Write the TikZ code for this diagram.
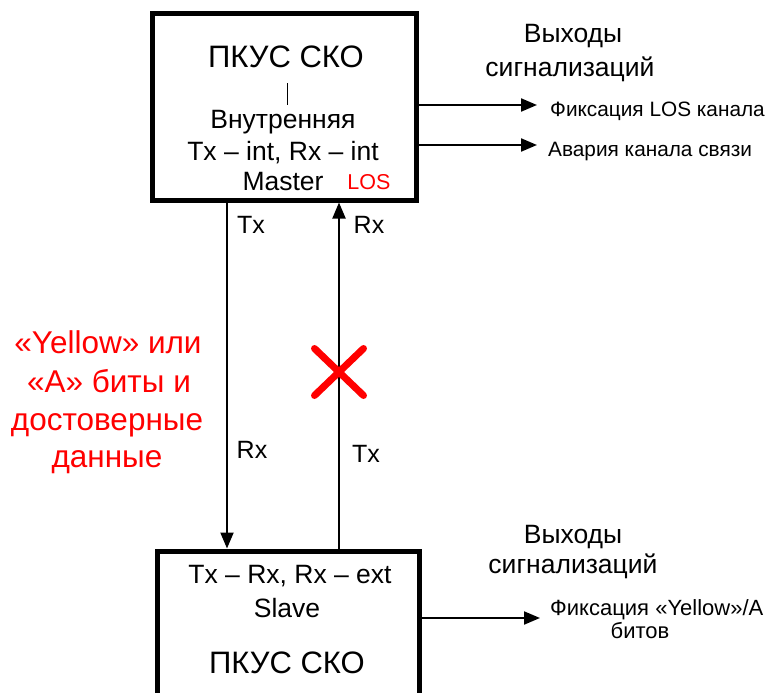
\documentclass[tikz,border=0pt]{standalone}
\usepackage{fontspec}
\setmainfont{Liberation Sans}
\usetikzlibrary{arrows.meta,shapes.misc}
\newcommand{\setfs}[2]{\fontsize{#1}{#2}\selectfont}

\begin{document}
\begin{tikzpicture}[x=1pt, y=-1pt,
      unit/.style={draw, line width=5pt, minimum width=264pt, inner sep=0pt},
      lbl/.style={inner sep=0pt, anchor=base},
      big/.style={lbl, font=\setfs{31}{37}},
      mid/.style={lbl, font=\setfs{26.5}{31}},
      sig/.style={lbl, anchor=base west, font=\setfs{20.8}{25}},
      port/.style={lbl, font=\setfs{25}{30}},
      warn/.style={lbl, text=red, font=\setfs{31.5}{38}},
      arr/.style={-{Triangle[length=16pt, width=13pt]}, line width=2pt},
      fail/.style={cross out, draw=red, line width=7pt, line cap=round,
                   minimum width=42pt, minimum height=40pt, inner sep=0pt}]
    \useasboundingbox (0,0) rectangle (771,693);
    \clip (0,0) rectangle (771,693);
    % master unit
    \node[unit, minimum height=186pt] (master) at (284,107) {};
    \node[big] (mtitle) at (286,67) {ПКУС СКО};
    \draw[line width=1pt] (287,83) -- (287,105);
    \node[mid] (mint) at (283,128) {Внутренняя};
    \node[mid] (mmode) at (283,160) {Tx – int, Rx – int};
    \node[mid] (mrole) at (283,190) {Master};
    \node[lbl, text=red, font=\setfs{21.5}{25}] (mlos) at (369,189) {LOS};
    % master alarm outputs
    \node[mid] (mouts) at (573,43) {Выходы};
    \node[mid] (mouts2) at (570,77) {сигнализаций};
    \node[sig] (los) at (550,116) {Фиксация LOS канала};
    \node[sig] (alarm) at (548,156) {Авария канала связи};
    \coordinate (losend) at (537,105);
    \coordinate (alarmend) at (537,145);
    \draw[arr] (master.east |- losend) -- (losend);
    \draw[arr] (master.east |- alarmend) -- (alarmend);
    % slave unit
    \node[unit, minimum width=262pt, minimum height=200pt] (slave) at (288,651) {};
    \node[mid] (smode) at (290,583) {Tx – Rx, Rx – ext};
    \node[mid] (srole) at (287,617) {Slave};
    \node[big] (stitle) at (287,673) {ПКУС СКО};
    % slave alarm outputs
    \node[mid] (souts) at (573,543) {Выходы};
    \node[mid] (souts2) at (573,573) {сигнализаций};
    \node[sig, font=\setfs{22}{26}] (yel) at (550,615) {Фиксация «Yellow»/A};
    \node[lbl, font=\setfs{22}{26}] (yel2) at (640,638) {битов};
    \coordinate (yelend) at (540,618);
    \draw[arr] (slave.east |- yelend) -- (yelend);
    % link between units
    \draw[arr] ([xshift=-57pt]master.south) -- ([xshift=-61pt]slave.north);
    \draw[arr] ([xshift=51pt]slave.north) -- ([xshift=55pt]master.south);
    \node[port] (tx1) at (251,233) {Tx};
    \node[port] (rx1) at (369,233) {Rx};
    \node[port] (rx2) at (252,458) {Rx};
    \node[port] (tx2) at (366,462) {Tx};
    \node[fail] (cut) at (339,372) {};
    % note
    \node[warn] (note1) at (108,353) {«Yellow» или};
    \node[warn] (note2) at (109,392) {«A» биты и};
    \node[warn] (note3) at (107,430) {достоверные};
    \node[warn] (note4) at (107,467) {данные};
  \end{tikzpicture}
\end{document}
